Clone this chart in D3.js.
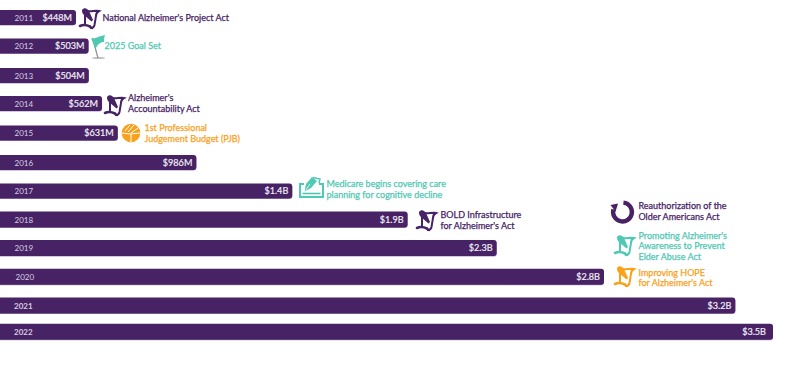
<!DOCTYPE html>
<html>
<head>
<meta charset="utf-8">
<script src="https://cdnjs.cloudflare.com/ajax/libs/d3/7.8.5/d3.min.js"></script>
<style>
  html, body { margin: 0; padding: 0; background: #fff; }
  text { font-family: Lato, "Noto Sans", sans-serif; }
</style>
</head>
<body>
<svg id="chart"></svg>
<script>
var years = ["2011","2012","2013","2014","2015","2016","2017","2018","2019","2020","2021","2022"]
// bar lengths in $M (labels are rounded, bars are not always)
var values = [448, 503, 504, 562, 631, 975, 1395, 1900, 2290, 2760, 3335, 3500]
var valueLabels = ["$448M","$503M","$504M","$562M","$631M","$986M","$1.4B","$1.9B","$2.3B","$2.8B","$3.2B","$3.5B"]
var rowCenters = [17.5, 46, 75.5, 103.5, 133, 162.5, 191, 219.5, 248, 276.7, 305.5, 331.7]

var purple = "#472264", teal = "#4fc8b4", orange = "#f9a11b"

var notes = [
  {x: 102.5, y: 21, color: purple, lines: ["National Alzheimer's Project Act"]},
  {x: 104.5, y: 49, color: teal, lines: ["2025 Goal Set"]},
  {x: 128, y: 101, color: purple, lines: ["Alzheimer's", "Accountability Act"]},
  {x: 144.5, y: 131, color: orange, lines: ["1st Professional", "Judgement Budget (PJB)"]},
  {x: 326.5, y: 187, color: teal, lines: ["Medicare begins covering care", "planning for cognitive decline"]},
  {x: 440.5, y: 218, color: purple, lines: ["BOLD Infrastructure", "for Alzheimer's Act"]},
  {x: 638.5, y: 209, color: purple, lines: ["Reauthorization of the", "Older Americans Act"]},
  {x: 638.5, y: 238.5, color: teal, lines: ["Promoting Alzheimer's", "Awareness to Prevent", "Elder Abuse Act"]},
  {x: 638.5, y: 275.5, color: orange, lines: ["Improving HOPE", "for Alzheimer's Act"]}
]

var scrolls = [
  {x: 79, y: 8, color: purple},
  {x: 104, y: 95, color: purple},
  {x: 416, y: 210, color: purple},
  {x: 614, y: 235, color: teal},
  {x: 614, y: 266, color: orange}
]

var svg = d3.select("#chart").attr("width", 800).attr("height", 369)
svg.append("rect").attr("width", 800).attr("height", 369).attr("fill", "#fff")

var xScale = d3.scaleLinear().domain([448, 3500]).range([76, 773])
var barH = function(i){ return i > 6 ? 16 : 15 }

var rows = svg.selectAll("g.row").data(years).enter().append("g").attr("class", "row")

function barPath(x1, y0, h){
  var r = 3
  return "M-2," + y0 + "H" + (x1 - r) + "Q" + x1 + "," + y0 + " " + x1 + "," + (y0 + r) +
    "V" + (y0 + h - r) + "Q" + x1 + "," + (y0 + h) + " " + (x1 - r) + "," + (y0 + h) + "H-2Z"
}

// lilac edge under each bar
rows.append("path")
  .attr("d", function(d, i){ return barPath(xScale(values[i]), rowCenters[i] - barH(i) / 2 + 0.6, barH(i)) })
  .attr("fill", "#a893bd")
rows.append("path")
  .attr("d", function(d, i){ return barPath(xScale(values[i]), rowCenters[i] - barH(i) / 2, barH(i)) })
  .attr("fill", purple)

rows.append("text")
  .attr("x", function(d, i){ return i == 9 ? 15.5 : (i > 9 ? 14 : 14.5) })
  .attr("y", function(d, i){ return rowCenters[i] + 3 })
  .attr("fill", "#d9cfe3")
  .attr("font-size", 8)
  .attr("font-weight", function(d, i){ return i > 9 ? 700 : 400 })
  .text(function(d){ return d })

rows.append("text")
  .attr("x", function(d, i){ return xScale(values[i]) - (i == 11 ? 7 : 4) })
  .attr("y", function(d, i){ return rowCenters[i] + 3.4 })
  .attr("text-anchor", "end")
  .attr("fill", "#f2eef6")
  .attr("stroke", "#f2eef6")
  .attr("stroke-width", 0.2)
  .attr("font-size", 9.1)
  .text(function(d, i){ return valueLabels[i] })

notes.forEach(function(n){
  var t = svg.append("text")
    .attr("fill", n.color)
    .attr("stroke", n.color)
    .attr("stroke-width", 0.25)
    .attr("font-size", 9)
  n.lines.forEach(function(l, i){
    t.append("tspan").attr("x", n.x).attr("y", n.y + i * 10.7).text(l)
  })
})

// icons
function scrollIcon(p){
  var g = svg.append("g").attr("transform", "translate(" + p.x + "," + p.y + ")")
    .attr("fill", "none").attr("stroke", p.color).attr("stroke-linecap", "round")
  // top band and right side of the scroll
  g.append("path").attr("d", "M9,3 C12,4 16,2 20,3 C18,4 17,5 17,8 L15.5,17 C15,19 14,20 12,20").attr("stroke-width", 2)
  // left side
  g.append("path").attr("d", "M6,7 L6,16").attr("stroke-width", 2)
  // rolled foot
  g.append("path").attr("d", "M1,18 C4,16.5 8,17 11,18.5 C11.5,19.5 12,20 13,20").attr("stroke-width", 2.6)
  // quill running down into the scroll
  g.append("path")
    .attr("d", "M3,2 C5,-1 8,0 10,3 L14,12 L12.5,13.5 L5,7 C3.5,6 3,4 3,2 Z")
    .attr("fill", p.color).attr("stroke", "none")
}
scrolls.forEach(scrollIcon)

// flag
var flag = svg.append("g").attr("transform", "translate(90,33)")
flag.append("ellipse").attr("cx", 8.5).attr("cy", 25).attr("rx", 6.5).attr("ry", 1.1).attr("fill", "#bdbdbd")
flag.append("path").attr("d", "M2.5,5 L8,25").attr("stroke", "#8f8f8f").attr("stroke-width", 1.2)
flag.append("path").attr("d", "M1,5 C4,7 8,3 15,2 C14,5 14,7 14,9 C10,9 8,11 5.5,16 Z").attr("fill", teal)

// pie / budget icon
var pie = svg.append("g").attr("transform", "translate(131,133)")
pie.append("circle").attr("r", 9.3).attr("fill", orange)
pie.append("path").attr("d", "M-6,-2 L-1,-8 M-3,-1 L3,-8 M0,0 L7,-5 M-9,0 L-1,1 L9,0 M0,1 V9").attr("stroke", "#fff").attr("stroke-width", 1).attr("fill", "none")

// medicare form icon
var form = svg.append("g").attr("transform", "translate(299,176)")
form.append("path").attr("d", "M5,8 H1 V21 H24 V8 H20").attr("fill", "none").attr("stroke", teal).attr("stroke-width", 2)
form.append("path").attr("d", "M3.5,17.5 H21.5").attr("stroke", teal).attr("stroke-width", 1.6)
form.append("path").attr("d", "M5.5,15.5 L7,8 L13,1 L18,5 L12,12 Z").attr("fill", teal)
form.append("path").attr("d", "M14,1.5 L21,3 L20,7").attr("fill", "none").attr("stroke", teal).attr("stroke-width", 1.5)
form.append("path").attr("d", "M6.5,14.5 L11,8").attr("stroke", "#fff").attr("stroke-width", 0.8)

// circular arrow
var arcGen = d3.arc().innerRadius(7.2).outerRadius(11.6)
var circ = svg.append("g").attr("transform", "translate(622.5,212)")
circ.append("path").attr("d", arcGen({startAngle: 0.1, endAngle: 5.0})).attr("fill", purple)
circ.append("path").attr("d", "M-12,-7 L-4.5,-8.5 L-7,-0.5 Z").attr("fill", purple)
</script>
</body>
</html>
